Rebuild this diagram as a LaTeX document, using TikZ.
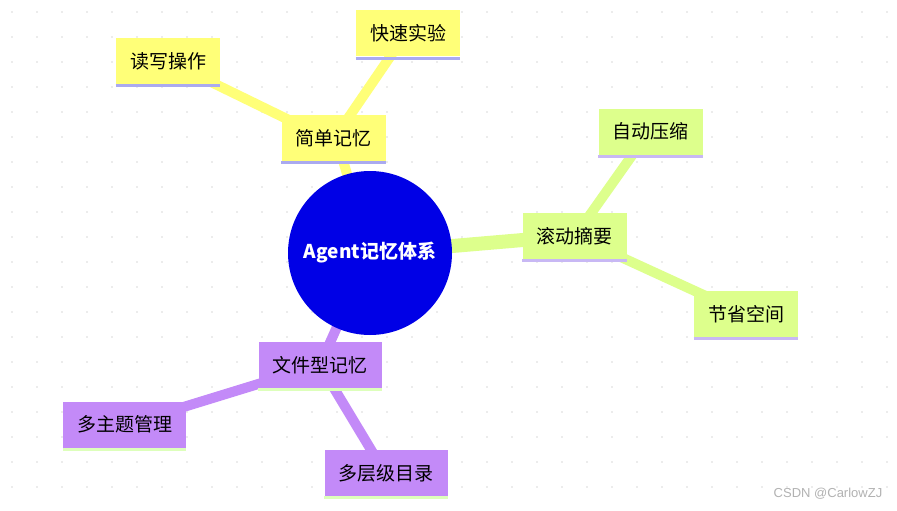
\documentclass[tikz,border=0pt]{standalone}
\usepackage{fontspec}
\newfontfamily\cjk{Noto Sans CJK SC}
\definecolor{yel}{HTML}{FFFF78}
\definecolor{grn}{HTML}{DDFF8C}
\definecolor{pur}{HTML}{C38AF8}
\definecolor{lav}{HTML}{AAAAF0}
\definecolor{lav2}{HTML}{C8B8F4}
\definecolor{lgr}{HTML}{DDFFBB}
\definecolor{cblue}{HTML}{0000E6}
\tikzset{
  box/.style={fill=#1, minimum height=46pt, inner xsep=14pt, font=\cjk\fontsize{19}{21}\selectfont, anchor=center},
  br/.style={draw=#1, line width=10pt, line cap=round},
}
\begin{document}
\begin{tikzpicture}[x=1pt,y=-1pt]
\useasboundingbox[fill=white] (0,0) rectangle (897,511);
\foreach \i in {0,...,35}{\foreach \j in {0,...,20}{
  \fill[black!15] (12+\i*25,12+\j*25) circle (0.9);}}
\coordinate (c) at (370,253);
\draw[br=yel] (c) -- (340,150);
\draw[br=yel] (330,140) -- (170,62);
\draw[br=yel] (340,130) -- (405,35);
\draw[draw=grn, line width=14pt] (c) -- (570,236);
\draw[br=grn] (575,236) -- (650,130);
\draw[br=grn] (575,236) -- (745,314);
\draw[br=pur] (c) -- (320,365);
\draw[br=pur] (320,365) -- (125,425);
\draw[br=pur] (320,365) -- (385,473);
\node[circle, fill=cblue, minimum size=164pt, text=white, font=\cjk\bfseries\fontsize{19}{21}\selectfont] (center) at (c) {Agent记忆体系};
\node[box=yel] (n1) at (333.5,138) {简单记忆};
\node[box=yel] (n2) at (168,61) {读写操作};
\node[box=yel] (n3) at (408,33.5) {快速实验};
\node[box=grn] (n4) at (574.5,236) {滚动摘要};
\node[box=grn] (n5) at (650.5,131.5) {自动压缩};
\node[box=grn] (n6) at (746,314) {节省空间};
\node[box=pur] (n7) at (320,365) {文件型记忆};
\node[box=pur] (n8) at (124.5,424.5) {多主题管理};
\node[box=pur] (n9) at (386,473) {多层级目录};
\foreach \n/\c in {n1/lav,n2/lav,n3/lav,n4/lav2,n5/lav2,n6/lav2,n7/lgr,n8/lgr,n9/lgr}
  \draw[\c, line width=3pt] ([yshift=-1.5pt]\n.south west) -- ([yshift=-1.5pt]\n.south east);
\node[text=black!30, font=\fontspec{Liberation Sans}\fontsize{13}{14}\selectfont] (wm) at (828,494) {CSDN @CarlowZJ};
\end{tikzpicture}
\end{document}
